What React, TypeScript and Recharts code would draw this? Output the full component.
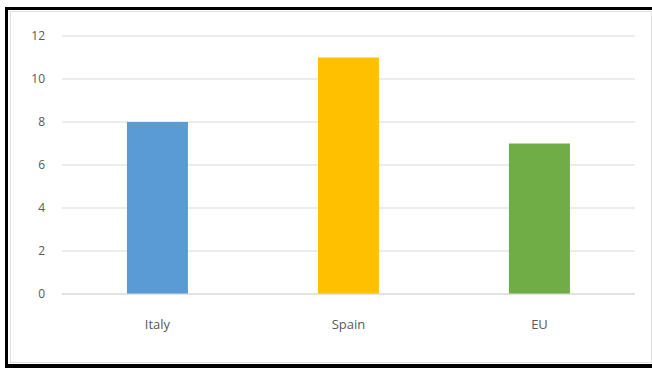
import React from "react";
import { BarChart, Bar, XAxis, YAxis, CartesianGrid, Cell } from "recharts";

const categories = ["Italy", "Spain", "EU"];
const values = [8, 11, 7];
const colors = ["#5B9BD5", "#FFC000", "#70AD47"];
const yTicks = [0, 2, 4, 6, 8, 10, 12];

const data = categories.map((name, i) => ({ name, value: values[i] }));

export default function App() {
  return (
    <div style={{ position: "fixed", left: 0, top: 0, width: 652, height: 368, background: "#fff", overflow: "hidden" }}>
      <div
        style={{
          position: "absolute",
          left: 5,
          top: 7,
          width: 660,
          height: 354,
          borderTop: "3px solid #000",
          borderLeft: "3px solid #000",
          borderBottom: "4px solid #000",
        }}
      />
      <div
        style={{
          position: "absolute",
          left: 10,
          top: 11,
          width: 640,
          height: 350,
          border: "1px solid #e0e0e0",
        }}
      />
      <div style={{ position: "absolute", left: 0, top: 0 }}>
        <BarChart
          width={652}
          height={368}
          data={data}
          margin={{ top: 36, right: 17, bottom: 0, left: 0 }}
          barCategoryGap="34%"
        >
          <CartesianGrid vertical={false} stroke="#d9d9d9" strokeWidth={1} />
          <XAxis
            dataKey="name"
            height={74}
            axisLine={{ stroke: "#d9d9d9" }}
            tickLine={false}
            tickSize={0}
            tickMargin={26}
            tick={{ fill: "#595959", fontSize: 13, fontFamily: "Open Sans" }}
          />
          <YAxis
            width={62}
            domain={[0, 12]}
            ticks={yTicks}
            axisLine={false}
            tickLine={false}
            tickSize={0}
            tickMargin={17}
            tick={{ fill: "#595959", fontSize: 12, fontFamily: "Open Sans" }}
          />
          <Bar dataKey="value" isAnimationActive={false}>
            {data.map((d, i) => (
              <Cell key={d.name} fill={colors[i]} />
            ))}
          </Bar>
        </BarChart>
      </div>
    </div>
  );
}
